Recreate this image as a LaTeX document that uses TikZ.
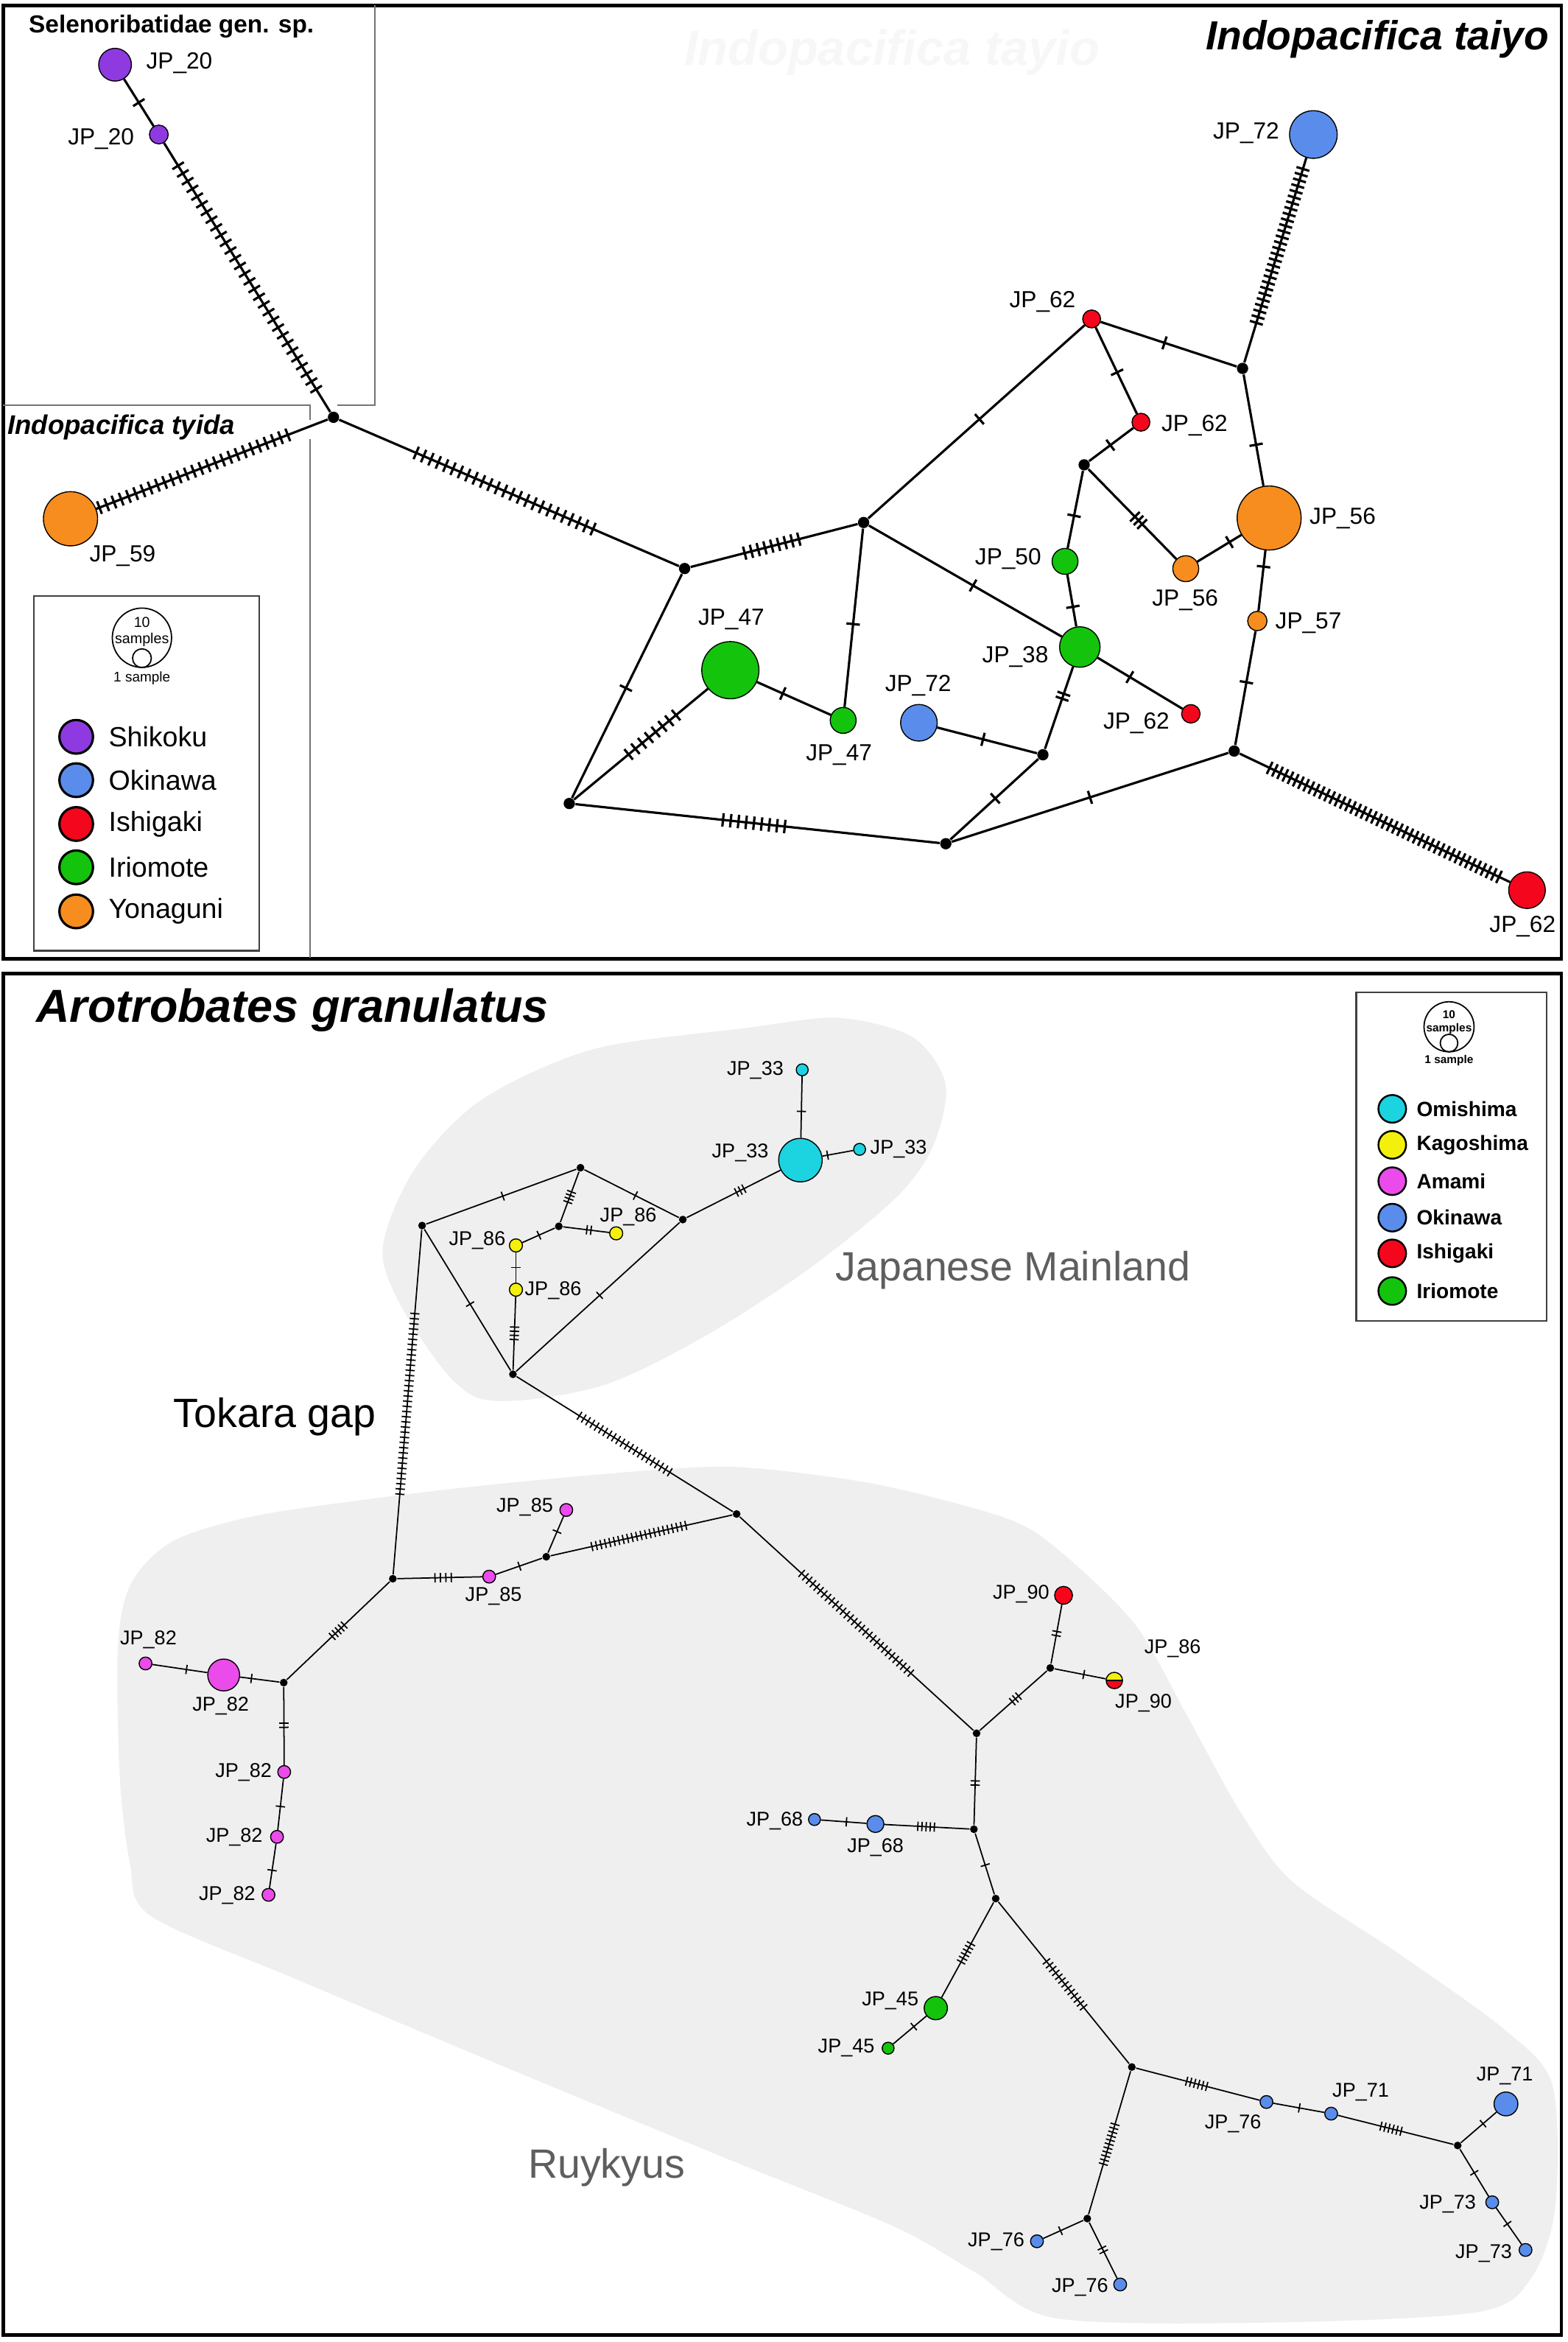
\documentclass[tikz,border=0pt]{standalone}
\usepackage{fontspec}
\setmainfont{Liberation Sans}
\usepackage{xcolor}
\usepackage{tikz}
\usetikzlibrary{shapes,calc,positioning,decorations.markings}

\definecolor{shikoku}{HTML}{8E3AE0}
\definecolor{okinawa}{HTML}{5A8DEB}
\definecolor{ishigaki}{HTML}{F4061C}
\definecolor{iriomote}{HTML}{14C40C}
\definecolor{yonaguni}{HTML}{F78D1E}
\definecolor{omishima}{HTML}{1CD3E0}
\definecolor{kagoshima}{HTML}{F3F00C}
\definecolor{amami}{HTML}{EA4BEA}
\definecolor{blobgray}{HTML}{EFEFEF}
\definecolor{areatext}{HTML}{5E5E5E}

\begin{document}
\begin{tikzpicture}[x=0.02029cm,y=-0.02029cm]
  \tikzset{hap circle/.style 2 args={draw,circle,inner sep=0pt,line width=0.4pt,fill=#1,minimum size=#2*1.1506pt}}
  \tikzset{median vector/.style={fill,circle,inner sep=0pt,minimum size=#1*1.1506pt}}
  \tikzset{tick gap/.store in=\tickgap,tick gap=2pt,tick len/.store in=\ticklen,tick len=2.6pt}
  \tikzset{mut/.style 2 args={postaction={decorate,decoration={markings,mark=at position #2 with {\foreach \k in {1,...,#1}{\draw ({(\k-(#1+1)/2)*\tickgap},-\ticklen) -- ({(\k-(#1+1)/2)*\tickgap},\ticklen);}}}}}}
  \tikzset{big edge/.style={line width=0.9pt},small edge/.style={line width=0.5pt,tick len=1.8pt,tick gap=1.6pt}}
  \tikzset{hap label/.style={inner sep=0pt,font=\fontsize{9}{10}\selectfont},small label/.style={inner sep=0pt,font=\fontsize{7.7}{9}\selectfont}}
  \tikzset{inner box/.style={draw=black!55,line width=0.6pt},panel/.style={draw,line width=1.4pt}}
  \useasboundingbox (0,0) rectangle (1049,1567);

  % Indopacifica panel
  \draw[panel] (2,3.5) rectangle (1045,641.5);
  \draw[inner box] (2,271) -- (207.5,271) -- (207.5,281);
  \draw[inner box] (207.5,294) -- (207.5,641);
  \draw[inner box] (226,271) -- (251,271) -- (251,3.5);
  \node[font=\fontsize{19}{20}\selectfont\bfseries\itshape,text=black!3] (ghost) at (597,35) {Indopacifica tayio};
  \node[anchor=east,inner sep=0pt,font=\fontsize{15.7}{17}\selectfont\bfseries\itshape] (taiyo) at (1037,26) {Indopacifica taiyo};
  \node[anchor=west,inner sep=0pt,font=\fontsize{10.4}{12}\selectfont\bfseries\itshape] (tyida) at (4.7,286) {Indopacifica tyida};
  \node[inner sep=0pt,font=\fontsize{9.5}{11}\selectfont\bfseries] (seleno) at (114.7,17.6) {Selenoribatidae gen. sp.};

  \node[hap circle={shikoku}{11}] (jp20a) at (77,43.3) {};
  \node[hap circle={shikoku}{6.3}] (jp20b) at (106.3,90) {};
  \node[hap circle={yonaguni}{18.2}] (jp59) at (47.2,347.1) {};
  \node[hap circle={ishigaki}{6}] (jp62a) at (730.6,213.4) {};
  \node[hap circle={ishigaki}{6}] (jp62b) at (763.6,282.5) {};
  \node[hap circle={okinawa}{16}] (jp72a) at (879,90) {};
  \node[hap circle={yonaguni}{21.5}] (jp56a) at (849.4,346.6) {};
  \node[hap circle={yonaguni}{8.7}] (jp56b) at (793.6,380.5) {};
  \node[hap circle={yonaguni}{6.5}] (jp57) at (841.5,415.5) {};
  \node[hap circle={iriomote}{8.7}] (jp50) at (712.8,375.6) {};
  \node[hap circle={iriomote}{13.6}] (jp38) at (722.7,432.9) {};
  \node[hap circle={ishigaki}{6.2}] (jp62c) at (797,477.6) {};
  \node[hap circle={okinawa}{12.3}] (jp72b) at (615,483.6) {};
  \node[hap circle={iriomote}{19.2}] (jp47a) at (488.8,448.4) {};
  \node[hap circle={iriomote}{8.7}] (jp47b) at (564.3,482) {};
  \node[hap circle={ishigaki}{12.3}] (jp62d) at (1022,595.6) {};
  \node[median vector=3.8] (mA) at (223.2,279.2) {};
  \node[median vector=3.8] (mB) at (458.2,380.4) {};
  \node[median vector=3.8] (mC) at (578,349.6) {};
  \node[median vector=3.8] (mD) at (381,537.6) {};
  \node[median vector=3.8] (mE) at (633,564.5) {};
  \node[median vector=3.8] (mF) at (698,505) {};
  \node[median vector=3.8] (mG) at (826,502.5) {};
  \node[median vector=3.8] (mH) at (831.6,246.5) {};
  \node[median vector=3.8] (mI) at (725.6,311) {};

  \begin{scope}[big edge]
    \draw[mut={1}{0.5}] (jp20a) -- (jp20b);
    \draw[mut={30}{0.5},tick gap=3.5pt] (jp20b) -- (mA);
    \draw[mut={27}{0.58},tick gap=3pt] (mA) -- (jp59);
    \draw[mut={25}{0.487},tick gap=3.1pt] (mA) -- (mB);
    \draw[mut={9}{0.486},tick gap=2.7pt] (mB) -- (mC);
    \draw[mut={1}{0.51}] (mB) -- (mD);
    \draw[mut={8}{0.585},tick gap=3.4pt] (mD) -- (jp47a);
    \draw[mut={9}{0.49},tick gap=3pt] (mD) -- (mE);
    \draw[mut={1}{0.35}] (jp47a) -- (jp47b);
    \draw[mut={1}{0.535}] (mC) -- (jp47b);
    \draw[mut={1}{0.54}] (mC) -- (jp38);
    \draw[mut={1}{0.515}] (mC) -- (jp62a);
    \draw[mut={1}{0.47}] (jp62a) -- (mH);
    \draw[mut={1}{0.52}] (jp62a) -- (jp62b);
    \draw[mut={1}{0.48}] (mI) -- (jp62b);
    \draw[mut={1}{0.58}] (mI) -- (jp50);
    \draw[mut={3}{0.57}] (mI) -- (jp56b);
    \draw[mut={1}{0.73}] (jp56b) -- (jp56a);
    \draw[mut={1}{0.63}] (mH) -- (jp56a);
    \draw[mut={28}{0.57},tick gap=2.3pt] (mH) -- (jp72a);
    \draw[mut={1}{0.27}] (jp56a) -- (jp57);
    \draw[mut={1}{0.45}] (jp57) -- (mG);
    \draw[mut={1}{0.62}] (jp50) -- (jp38);
    \draw[mut={1}{0.38}] (jp38) -- (jp62c);
    \draw[mut={2}{0.36}] (jp38) -- (mF);
    \draw[mut={1}{0.46}] (jp72b) -- (mF);
    \draw[mut={1}{0.49}] (mF) -- (mE);
    \draw[mut={1}{0.5}] (mE) -- (mG);
    \draw[mut={45}{0.535},tick gap=2.23pt] (mG) -- (jp62d);
  \end{scope}

  \node[hap label] (t20a) at (120,42) {JP\_20};
  \node[hap label] (t20b) at (67.6,93) {JP\_20};
  \node[hap label] (t59) at (82,372) {JP\_59};
  \node[hap label] (t72a) at (834,89) {JP\_72};
  \node[hap label] (t62a) at (697.7,202) {JP\_62};
  \node[hap label] (t62b) at (799.5,284.5) {JP\_62};
  \node[hap label] (t56a) at (898.6,346.6) {JP\_56};
  \node[hap label] (t56b) at (793.2,401.4) {JP\_56};
  \node[hap label] (t57) at (875.7,417) {JP\_57};
  \node[hap label] (t50) at (674.7,374) {JP\_50};
  \node[hap label] (t38) at (679.5,439.7) {JP\_38};
  \node[hap label] (t62c) at (760.5,483.8) {JP\_62};
  \node[hap label] (t72b) at (614.5,458.7) {JP\_72};
  \node[hap label] (t47a) at (489.4,414.6) {JP\_47};
  \node[hap label] (t47b) at (561.5,505.3) {JP\_47};
  \node[hap label] (t62d) at (1019,620) {JP\_62};

  % legend Indopacifica
  \draw[draw=black!75,line width=0.7pt] (22.7,398.8) rectangle (173.5,636);
  \node[draw,circle,inner sep=0pt,line width=0.5pt,minimum size=19.9*1.1506pt] (tenA) at (95,426.7) {};
  \node[draw,circle,inner sep=0pt,line width=0.5pt,minimum size=6.3*1.1506pt] (oneA) at (95,440.4) {};
  \node[inner sep=0pt,font=\fontsize{5.6}{6}\selectfont] (tenAt) at (95,416.6) {10};
  \node[inner sep=0pt,font=\fontsize{5.6}{6}\selectfont] (tenAs) at (95,428) {samples};
  \node[inner sep=0pt,font=\fontsize{5.4}{6}\selectfont] (oneAt) at (95,454) {1 sample};
  \tikzset{key A/.style={draw,circle,inner sep=0pt,line width=0.9pt,fill=#1,minimum size=22.6*1.1506pt/2},key A text/.style={anchor=west,inner sep=0pt,font=\fontsize{10.7}{12}\selectfont}}
  \node[key A=shikoku] (kShikoku) at (51,493) {};
  \node[key A text] (nShikoku) at (72.4,493) {Shikoku};
  \node[key A=okinawa] (kOkinawa) at (51,522) {};
  \node[key A text] (nOkinawa) at (72.4,522) {Okinawa};
  \node[key A=ishigaki] (kIshigaki) at (51,551.3) {};
  \node[key A text] (nIshigaki) at (72.4,551.3) {Ishigaki};
  \node[key A=iriomote] (kIriomote) at (51,580.3) {};
  \node[key A text] (nIriomote) at (72.4,580.3) {Iriomote};
  \node[key A=yonaguni] (kYonaguni) at (51,609.8) {};
  \node[key A text] (nYonaguni) at (72.4,609.8) {Yonaguni};

  % Arotrobates panel
  \draw[panel] (2,651.5) rectangle (1045,1562.5);
  \fill[blobgray] plot[smooth cycle] coordinates {(256,840) (277,783) (322,736) (397,702) (498,688) (561,681) (611,694) (633,726) (624,768) (599,802) (540,850) (470,895) (400,928) (322,936) (282,896)};
  \fill[blobgray] plot[smooth cycle] coordinates {(80,1186) (79,1100) (88,1059) (116,1031) (172,1014) (263,1001) (342,992) (445,983) (501,982) (586,993) (671,1015) (706,1035) (759,1086) (794,1147) (830,1212) (865,1259) (936,1307) (1007,1358) (1039,1395) (1041,1476) (1025,1524) (989,1547) (848,1554) (706,1551) (652,1520) (599,1490) (493,1447) (350,1388) (200,1325) (101,1282) (87,1247)};
  \node[anchor=west,inner sep=0pt,font=\fontsize{17.9}{20}\selectfont\bfseries\itshape] (granulatus) at (24,676) {Arotrobates granulatus};
  \node[inner sep=0pt,text=areatext,font=\fontsize{15.8}{18}\selectfont] (mainland) at (678,850) {Japanese Mainland};
  \node[inner sep=0pt,font=\fontsize{15.8}{18}\selectfont] (tokara) at (184,948) {Tokara gap};
  \node[inner sep=0pt,text=areatext,font=\fontsize{15.8}{18}\selectfont] (ryukyus) at (406,1450) {Ruykyus};

  \node[hap circle={omishima}{14.6}] (jp33a) at (535.7,776.2) {};
  \node[hap circle={omishima}{4}] (jp33b) at (536.9,715.8) {};
  \node[hap circle={omishima}{4}] (jp33c) at (575.3,769) {};
  \node[hap circle={kagoshima}{4.4}] (jp86a) at (345.3,833.3) {};
  \node[hap circle={kagoshima}{4.4}] (jp86b) at (412.4,825.2) {};
  \node[hap circle={kagoshima}{4.4}] (jp86c) at (345.3,862.9) {};
  \node[hap circle={amami}{4.3}] (jp85a) at (327.4,1054.9) {};
  \node[hap circle={amami}{4.3}] (jp85b) at (379,1010.3) {};
  \node[hap circle={amami}{10.7}] (jp82a) at (149.7,1120.7) {};
  \node[hap circle={amami}{4.3}] (jp82b) at (97.4,1113) {};
  \node[hap circle={amami}{4.3}] (jp82c) at (190.2,1185.6) {};
  \node[hap circle={amami}{4.3}] (jp82d) at (185.4,1229) {};
  \node[hap circle={amami}{4.3}] (jp82e) at (179.7,1267.8) {};
  \node[hap circle={ishigaki}{6}] (jp90) at (711.8,1067.4) {};
  \node[hap circle={kagoshima}{5.5},path picture={\fill[ishigaki] (path picture bounding box.west) rectangle (path picture bounding box.south east);\draw[line width=0.4pt] (path picture bounding box.west) -- (path picture bounding box.east);}] (jp8690) at (745.8,1124.4) {};
  \node[hap circle={okinawa}{5.7}] (jp68a) at (585.9,1220.4) {};
  \node[hap circle={okinawa}{4}] (jp68b) at (545.1,1217.4) {};
  \node[hap circle={iriomote}{7.8}] (jp45a) at (626.3,1343.6) {};
  \node[hap circle={iriomote}{4}] (jp45b) at (594.4,1370.4) {};
  \node[hap circle={okinawa}{4.3}] (jp76a) at (847.6,1406.4) {};
  \node[hap circle={okinawa}{4.3}] (jp71a) at (890.9,1414.2) {};
  \node[hap circle={okinawa}{8}] (jp71b) at (1007.9,1407.7) {};
  \node[hap circle={okinawa}{4.3}] (jp73a) at (998.7,1473.5) {};
  \node[hap circle={okinawa}{4.3}] (jp73b) at (1021,1505.4) {};
  \node[hap circle={okinawa}{4.3}] (jp76b) at (694,1499.6) {};
  \node[hap circle={okinawa}{4.3}] (jp76c) at (749.7,1528.5) {};
  \node[median vector=2.6] (mJ1) at (388.5,781.3) {};
  \node[median vector=2.6] (mJ2) at (282.5,820) {};
  \node[median vector=2.6] (mJ3) at (457,816) {};
  \node[median vector=2.6] (mJ4) at (374,820.5) {};
  \node[median vector=2.6] (mJ5) at (343.3,919.5) {};
  \node[median vector=2.6] (mK) at (262.9,1056.3) {};
  \node[median vector=2.6] (mL) at (365.6,1041.6) {};
  \node[median vector=2.6] (mP) at (493,1013) {};
  \node[median vector=2.6] (mM) at (189.9,1125.8) {};
  \node[median vector=2.6] (mQ) at (653.6,1159.7) {};
  \node[median vector=2.6] (mR) at (702.9,1116) {};
  \node[median vector=2.6] (mS) at (651.8,1223.9) {};
  \node[median vector=2.6] (mT) at (666.4,1270.3) {};
  \node[median vector=2.6] (mU) at (757.5,1383) {};
  \node[median vector=2.6] (mV) at (975.6,1435.5) {};
  \node[median vector=2.6] (mW) at (727.7,1484.4) {};

  \begin{scope}[small edge]
    \draw[mut={1}{0.51}] (mJ2) -- (mJ1);
    \draw[mut={1}{0.54}] (mJ1) -- (mJ3);
    \draw[mut={4}{0.5},tick gap=1.4pt] (mJ1) -- (mJ4);
    \draw[mut={1}{0.51}] (jp86a) -- (mJ4);
    \draw[mut={2}{0.56}] (mJ4) -- (jp86b);
    \draw[mut={1}{0.5}] (jp86a) -- (jp86c);
    \draw[mut={4}{0.5}] (jp86c) -- (mJ5);
    \draw[mut={1}{0.53}] (mJ2) -- (mJ5);
    \draw[mut={1}{0.49}] (mJ3) -- (mJ5);
    \draw[mut={3}{0.57}] (mJ3) -- (jp33a);
    \draw[mut={1}{0.57}] (jp33b) -- (jp33a);
    \draw[mut={1}{0.17}] (jp33a) -- (jp33c);
    \draw[mut={36}{0.505},tick gap=2pt] (mJ2) -- (mK);
    \draw[mut={22}{0.5},tick gap=1.96pt] (mJ5) -- (mP);
    \draw[mut={22}{0.486},tick gap=1.77pt] (mL) -- (mP);
    \draw[mut={30}{0.5},tick gap=1.97pt] (mP) -- (mQ);
    \draw[mut={4}{0.54},tick gap=2.1pt] (mK) -- (jp85a);
    \draw[mut={1}{0.51}] (jp85a) -- (mL);
    \draw[mut={1}{0.58}] (mL) -- (jp85b);
    \draw[mut={5}{0.5}] (mM) -- (mK);
    \draw[mut={1}{0.29}] (jp82a) -- (mM);
    \draw[mut={1}{0.62}] (jp82b) -- (jp82a);
    \draw[mut={2}{0.49}] (mM) -- (jp82c);
    \draw[mut={1}{0.54}] (jp82c) -- (jp82d);
    \draw[mut={1}{0.6}] (jp82d) -- (jp82e);
    \draw[mut={3}{0.53}] (mQ) -- (mR);
    \draw[mut={2}{0.51}] (mR) -- (jp90);
    \draw[mut={1}{0.57}] (mR) -- (jp8690);
    \draw[mut={2}{0.52}] (mQ) -- (mS);
    \draw[mut={5}{0.49}] (jp68a) -- (mS);
    \draw[mut={1}{0.56}] (jp68b) -- (jp68a);
    \draw[mut={1}{0.52}] (mS) -- (mT);
    \draw[mut={6}{0.47}] (jp45a) -- (mT);
    \draw[mut={1}{0.62}] (jp45b) -- (jp45a);
    \draw[mut={13}{0.51},tick gap=1.9pt] (mT) -- (mU);
    \draw[mut={6}{0.49}] (mU) -- (jp76a);
    \draw[mut={1}{0.51}] (jp76a) -- (jp71a);
    \draw[mut={6}{0.46}] (jp71a) -- (mV);
    \draw[mut={1}{0.62}] (mV) -- (jp71b);
    \draw[mut={1}{0.5}] (mV) -- (jp73a);
    \draw[mut={1}{0.44}] (jp73a) -- (jp73b);
    \draw[mut={11}{0.51}] (mU) -- (mW);
    \draw[mut={1}{0.57}] (mW) -- (jp76b);
    \draw[mut={2}{0.49}] (mW) -- (jp76c);
  \end{scope}

  \node[small label] (s33a) at (495.4,771.5) {JP\_33};
  \node[small label] (s33b) at (505.5,716) {JP\_33};
  \node[small label] (s33c) at (601.4,769) {JP\_33};
  \node[small label] (s86a) at (319.4,830) {JP\_86};
  \node[small label] (s86b) at (420.5,814) {JP\_86};
  \node[small label] (s86c) at (370.2,863.5) {JP\_86};
  \node[small label] (s85a) at (330.3,1068) {JP\_85};
  \node[small label] (s85b) at (351.2,1008.6) {JP\_85};
  \node[small label] (s82a) at (147.7,1141.5) {JP\_82};
  \node[small label] (s82b) at (99.3,1097) {JP\_82};
  \node[small label] (s82c) at (163,1185.6) {JP\_82};
  \node[small label] (s82d) at (156.8,1229) {JP\_82};
  \node[small label] (s82e) at (152,1268) {JP\_82};
  \node[small label] (s90a) at (683.4,1066.4) {JP\_90};
  \node[small label] (s86d) at (784.8,1103) {JP\_86};
  \node[small label] (s90b) at (765.3,1139.4) {JP\_90};
  \node[small label] (s68b) at (518.5,1218.4) {JP\_68};
  \node[small label] (s68a) at (585.9,1236) {JP\_68};
  \node[small label] (s45a) at (595.8,1338.8) {JP\_45};
  \node[small label] (s45b) at (566.4,1370.4) {JP\_45};
  \node[small label] (s76a) at (825.2,1421) {JP\_76};
  \node[small label] (s71a) at (910.7,1400) {JP\_71};
  \node[small label] (s71b) at (1007.1,1389) {JP\_71};
  \node[small label] (s73a) at (968.9,1474.6) {JP\_73};
  \node[small label] (s73b) at (993,1507.8) {JP\_73};
  \node[small label] (s76b) at (666.7,1500) {JP\_76};
  \node[small label] (s76c) at (722.8,1530.5) {JP\_76};

  % legend Arotrobates
  \draw[draw=black!75,line width=0.7pt] (907.6,664) rectangle (1035,883.7);
  \node[draw,circle,inner sep=0pt,line width=0.5pt,minimum size=16.8*1.1506pt] (tenB) at (969.8,687) {};
  \node[draw,circle,inner sep=0pt,line width=0.5pt,minimum size=5.9*1.1506pt] (oneB) at (969.8,697.9) {};
  \node[inner sep=0pt,font=\fontsize{4.4}{5}\selectfont\bfseries] (tenBt) at (969.8,678.6) {10};
  \node[inner sep=0pt,font=\fontsize{4.4}{5}\selectfont\bfseries] (tenBs) at (969.8,688.5) {samples};
  \node[inner sep=0pt,font=\fontsize{4.4}{5}\selectfont\bfseries] (oneBt) at (969.8,709.8) {1 sample};
  \tikzset{key B/.style={draw,circle,inner sep=0pt,line width=0.7pt,fill=#1,minimum size=18.6*1.1506pt/2},key B text/.style={anchor=west,inner sep=0pt,font=\fontsize{8}{9}\selectfont\bfseries}}
  \node[key B=omishima] (kOmishima) at (931.8,741.9) {};
  \node[key B text] (nOmishima) at (947.8,741.9) {Omishima};
  \node[key B=kagoshima] (kKagoshima) at (931.8,766) {};
  \node[key B text] (nKagoshima) at (947.8,766) {Kagoshima};
  \node[key B=amami] (kAmami) at (931.8,790.3) {};
  \node[key B text] (nAmami) at (947.8,790.3) {Amami};
  \node[key B=okinawa] (kOkinawaB) at (931.8,814.7) {};
  \node[key B text] (nOkinawaB) at (947.8,814.7) {Okinawa};
  \node[key B=ishigaki] (kIshigakiB) at (931.8,838.6) {};
  \node[key B text] (nIshigakiB) at (947.8,838.6) {Ishigaki};
  \node[key B=iriomote] (kIriomoteB) at (931.8,863.8) {};
  \node[key B text] (nIriomoteB) at (947.8,863.8) {Iriomote};
\end{tikzpicture}
\end{document}
